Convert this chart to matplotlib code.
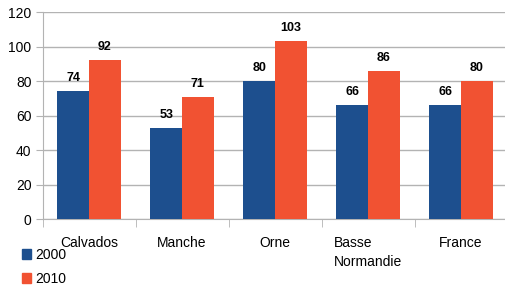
import numpy as np
import matplotlib.pyplot as plt
from matplotlib.patches import Patch

plt.rcParams['font.family'] = ['Liberation Sans', 'DejaVu Sans']

categories = ["Calvados", "Manche", "Orne", "Basse\nNormandie", "France"]
series_2000 = [74, 53, 80, 66, 66]
series_2010 = [92, 71, 103, 86, 80]
series_names = ["2000", "2010"]

blue = '#1d4f8e'
orange = '#f15232'
grid_col = '#b3b3b3'

fig = plt.figure(figsize=(5.05, 2.86), dpi=100)
ax = fig.add_axes([0.0842, 0.234, 0.921, 0.724])

x = np.arange(len(categories))
w = 0.34
b1 = ax.bar(x - w / 2, series_2000, w, color=blue, zorder=3)
b2 = ax.bar(x + w / 2, series_2010, w, color=orange, zorder=3)

for bars in (b1, b2):
    for r in bars:
        ax.annotate("{}".format(int(r.get_height())),
                    (r.get_x() + r.get_width() / 2, r.get_height()),
                    xytext=(0, 5), textcoords='offset points',
                    ha='center', va='bottom', fontsize=9, fontweight='bold')

ax.set_xlim(-0.5, len(categories) - 0.5)
ax.set_ylim(0, 120)
ax.set_yticks(range(0, 121, 20))
ax.yaxis.grid(True, color=grid_col, linewidth=1, zorder=0)
ax.tick_params(axis='y', length=5, color=grid_col, labelsize=10, pad=3)

ax.set_xticks(x)
ax.set_xticklabels(categories, fontsize=10, multialignment='left', linespacing=1.45)
ax.tick_params(axis='x', which='major', length=0, pad=12)
ax.set_xticks(np.arange(-0.5, len(categories)), minor=True)
ax.tick_params(axis='x', which='minor', length=6, color=grid_col)

for s in ['top', 'right']:
    ax.spines[s].set_visible(False)
for s in ['left', 'bottom']:
    ax.spines[s].set_color(grid_col)

handles = [Patch(color=blue), Patch(color=orange)]
fig.legend(handles, series_names, loc='lower left', bbox_to_anchor=(0.04, -0.004),
           frameon=False, fontsize=10, handlelength=0.7, handleheight=0.7,
           handletextpad=0.3, labelspacing=0.7, borderpad=0.1, borderaxespad=0)

fig.savefig("out.png", dpi=100)
